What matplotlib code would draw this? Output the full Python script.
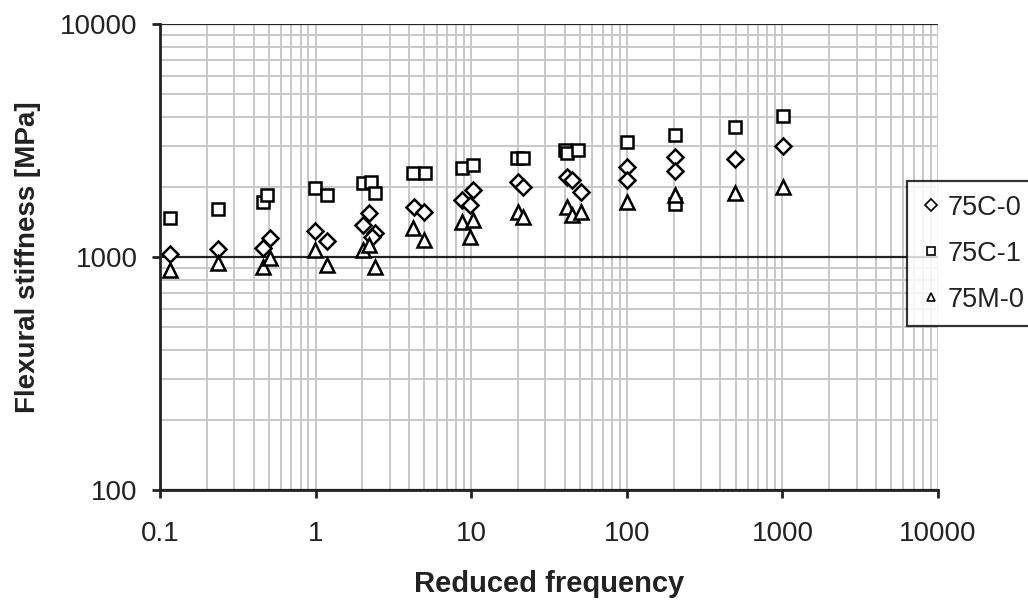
import numpy as np
import matplotlib
matplotlib.use("Agg")
from matplotlib import pyplot as plt
from matplotlib.ticker import FixedLocator, FixedFormatter, LogLocator, NullFormatter

plt.rcParams['font.family'] = ['Liberation Sans', 'DejaVu Sans']

# 75C-0 (diamonds)
c0_x = [0.116, 0.236, 0.46, 0.51, 0.99, 1.18, 2.02, 2.2, 2.4, 2.3,
        4.3, 5.0, 8.7, 9.8, 10.3, 20.0, 21.5, 41.0, 44.5, 51.0,
        100, 100, 204, 204, 496, 1010]
c0_y = [1030, 1082, 1093, 1207, 1290, 1170, 1372, 1545, 1268, 1220,
        1640, 1561, 1757, 1672, 1940, 2098, 1996, 2205, 2140, 1901,
        2433, 2140, 2687, 2339, 2634, 2995]

# 75C-1 (squares)
c1_x = [0.116, 0.236, 0.46, 0.49, 0.99, 1.18, 2.02, 2.26, 2.41,
        4.25, 5.05, 8.7, 10.3, 19.8, 21.5, 40.0, 41.5, 48.6,
        100, 204, 204, 496, 1010]
c1_y = [1470, 1607, 1722, 1845, 1978, 1845, 2078, 2094, 1882,
        2293, 2293, 2410, 2483, 2660, 2660, 2878, 2785, 2878,
        3115, 3340, 1690, 3612, 4028]

# 75M-0 (triangles)
m0_x = [0.116, 0.236, 0.46, 0.51, 0.99, 1.18, 2.02, 2.2, 2.41,
        4.25, 5.0, 8.7, 10.3, 9.8, 20.0, 21.5, 41.0, 44.5, 51.0,
        100, 204, 496, 1010]
m0_y = [880, 942, 906, 991, 1068, 923, 1072, 1130, 906,
        1332, 1183, 1414, 1442, 1218, 1561, 1480, 1640, 1514, 1561,
        1722, 1840, 1882, 1996]

x_ticks = [0.1, 1, 10, 100, 1000, 10000]
x_labels = ["0.1", "1", "10", "100", "1000", "10000"]
y_ticks = [100, 1000, 10000]
y_labels = ["100", "1000", "10000"]

fig = plt.figure(figsize=(10.28, 6.03), dpi=100)
ax = fig.add_axes([160/1028, 1-490/603, (938-160)/1028, (490-24)/603])

ax.set_xscale("log")
ax.set_yscale("log")
ax.set_xlim(0.1, 10000)
ax.set_ylim(100, 10000)

mk = dict(linestyle="none", markerfacecolor="white", markeredgecolor="black",
          markeredgewidth=1.8, clip_on=False)
ax.plot(c0_x, c0_y, marker="D", markersize=8.3, label="75C-0", zorder=3, **mk)
ax.plot(c1_x, c1_y, marker="s", markersize=9.3, label="75C-1", zorder=3, **mk)
ax.plot(m0_x, m0_y, marker="^", markersize=10.5, label="75M-0", zorder=3, **mk)

ax.xaxis.set_major_locator(FixedLocator(x_ticks))
ax.xaxis.set_major_formatter(FixedFormatter(x_labels))
ax.yaxis.set_major_locator(FixedLocator(y_ticks))
ax.yaxis.set_major_formatter(FixedFormatter(y_labels))
ax.xaxis.set_minor_locator(LogLocator(base=10, subs=np.arange(2, 10), numticks=20))
ax.yaxis.set_minor_locator(LogLocator(base=10, subs=np.arange(2, 10), numticks=20))
ax.xaxis.set_minor_formatter(NullFormatter())
ax.yaxis.set_minor_formatter(NullFormatter())

ax.grid(True, which="both", axis="x", color="#c8c8c8", linewidth=1.4)
ax.grid(True, which="minor", axis="y", color="#c8c8c8", linewidth=1.4)
ax.grid(True, which="major", axis="y", color="#222222", linewidth=1.6)
ax.set_axisbelow(True)

ax.spines["top"].set_visible(False)
ax.spines["right"].set_visible(False)
for s in ["left", "bottom"]:
    ax.spines[s].set_linewidth(2)
    ax.spines[s].set_color("#222222")

ax.tick_params(which="major", direction="out", length=6, width=2, color="#222222",
               labelsize=20, labelcolor="#222222")
ax.tick_params(axis="x", which="major", pad=16)
ax.tick_params(axis="y", which="major", pad=10)
ax.tick_params(which="minor", length=0)

ax.set_xlabel("Reduced frequency", fontsize=21, fontweight="bold", labelpad=17, color="#222222")
ax.set_ylabel("Flexural stiffness [MPa]", fontsize=20, fontweight="bold", labelpad=14, color="#222222")

leg = fig.legend(loc="upper left", bbox_to_anchor=(907/1028, 1-181/603),
                 fontsize=19.5, frameon=True, fancybox=False, edgecolor="black",
                 handletextpad=0.2, handlelength=0.8, labelspacing=0.74,
                 borderpad=0.5, borderaxespad=0)
leg.get_frame().set_linewidth(1.6)
for h in leg.legend_handles:
    h.set_markersize(6)
    h.set_markeredgewidth(1.2)
for t in leg.get_texts():
    t.set_color("#222222")

fig.savefig("out.png", dpi=100)
